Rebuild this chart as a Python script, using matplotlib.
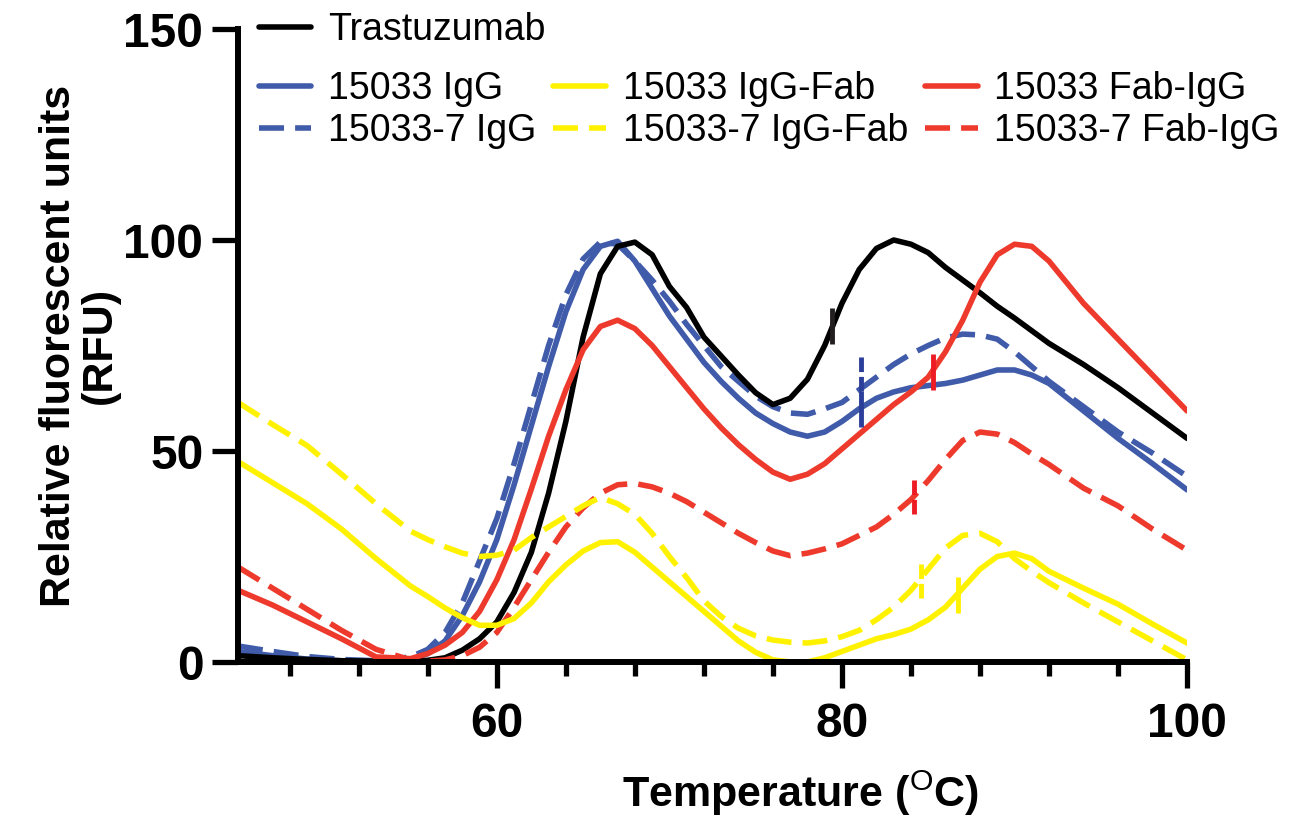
import matplotlib
matplotlib.use("Agg")
import matplotlib.pyplot as plt
from matplotlib.ticker import MultipleLocator, FixedLocator

plt.rcParams['font.family'] = ['Liberation Sans', 'DejaVu Sans']
plt.rcParams['mathtext.fontset'] = 'custom'
plt.rcParams['mathtext.rm'] = 'Liberation Sans'
plt.rcParams['mathtext.bf'] = 'Liberation Sans:bold'

# temperature (°C)
temps = [45, 47, 49, 51, 53, 55, 56, 57, 58, 59, 60, 61, 62, 63, 64, 65, 66, 67,
         68, 69, 70, 71, 72, 73, 74, 75, 76, 77, 78, 79, 80, 81, 82, 83, 84, 85,
         86, 87, 88, 89, 90, 91, 92, 94, 96, 98, 100]

trastuzumab = [1.5, 1.0, 0.6, 0.3, 0.2, 0.2, 0.4, 1.0, 2.8, 5.5, 9.5, 16.5, 26, 40, 57, 77, 92, 98.5,
               99.5, 96.5, 89, 84, 77, 72.5, 68, 63.8, 61, 62.5, 67, 75, 85, 93, 98, 100, 99, 97,
               93.5, 90.5, 87.5, 84.3, 81.5, 78.5, 75.5, 70.5, 65, 59, 53]
igg = [2.5, 1.5, 0.7, 0.3, 0.2, 0.6, 2, 5, 11, 19, 29, 42, 56, 70, 83, 93, 98.5, 99.7,
       95, 88.5, 82, 76.5, 71, 66.5, 62.5, 59, 56.5, 54.5, 53.5, 54.5, 57, 60, 62.5, 64, 65, 65.5,
       66, 66.8, 68, 69.2, 69.2, 68, 66, 59.5, 53, 47, 40.8]
igg_7 = [3.8, 2.5, 1.3, 0.6, 0.3, 1.2, 3, 7, 14, 24, 34, 47, 61, 75, 87, 95.5, 99.5, 99,
         95, 90.5, 85.5, 80, 75, 70, 66.5, 63, 60.5, 59, 58.7, 60, 61.5, 64.5, 67.5, 70.5, 73, 75,
         76.8, 77.7, 77.5, 76.5, 73.5, 70, 66.5, 60.5, 54.5, 49.5, 44]
igg_fab = [47.5, 42.5, 37.5, 31.5, 24.5, 18, 15.5, 12.8, 10.5, 8.7, 8.7, 10.3, 14, 19, 23, 26.3, 28.3, 28.5,
           26, 22.5, 19, 15.5, 12, 8.5, 5, 2.3, 0.5, 0, 0, 1, 2.5, 4, 5.5, 6.5, 7.8, 10,
           13, 17.5, 22, 25, 25.8, 24.5, 21.5, 17.5, 13.7, 9, 4.5]
igg_fab_7 = [61.5, 56.3, 51.3, 44.5, 37.5, 31, 29, 27.3, 25.8, 25, 25.3, 26.5, 29.5, 32, 34.5, 37, 39, 37.5,
             35, 30.5, 25, 20, 14.5, 10.8, 8, 6.2, 5.2, 4.7, 4.5, 5, 6, 7.5, 10, 13, 17, 22,
             27, 30, 30.5, 28.5, 24.5, 21.5, 18.8, 14, 9.5, 5, 0.5]
fab_igg = [17, 13.5, 9.5, 5.5, 1.2, 0.8, 2, 4, 7, 12, 19.5, 29, 41, 53.5, 64.5, 74, 79.5, 81,
           79, 75, 70, 65, 60, 55.5, 51.5, 48, 45, 43.3, 44.5, 47, 50.5, 54, 57.5, 61, 64, 67.5,
           73.5, 81, 90, 96.5, 99, 98.5, 95, 85, 76.5, 68, 59.5]
fab_igg_7 = [22.5, 17.5, 12.5, 7.5, 3, 0.5, 0.2, 0.5, 1.5, 3.5, 7, 13, 19.5, 26, 32, 36.5, 40, 42,
             42.3, 41.5, 40, 38, 35.5, 33, 30.5, 28.3, 26.3, 25.2, 25.8, 26.8, 28, 30, 32, 35, 38.5, 43,
             48, 52.5, 54.5, 54, 52, 49.3, 46.8, 41.2, 37, 31.5, 26.5]

# Tm tick marks (x, centre y)
tm_x = [79.4, 81.1, 81.1, 85.3, 84.2, 86.7, 84.6]
tm_y = [79.6, 60, 68.5, 68.8, 39.3, 15.8, 19.4]

BLUE = '#3F5BA9'
YELLOW = '#FFF200'
RED = '#EE3A2C'
BLACK = '#000000'
DASH = (0, (4.5, 2))

fig = plt.figure(figsize=(12.9, 8.24), dpi=100)
ax = fig.add_axes([0.1845, 0.1966, 0.7357, 0.7682])

series = [
    ('15033-7 IgG', igg_7, BLUE, DASH),
    ('15033 IgG', igg, BLUE, '-'),
    ('Trastuzumab', trastuzumab, BLACK, '-'),
    ('15033 Fab-IgG', fab_igg, RED, '-'),
    ('15033-7 Fab-IgG', fab_igg_7, RED, DASH),
    ('15033 IgG-Fab', igg_fab, YELLOW, '-'),
    ('15033-7 IgG-Fab', igg_fab_7, YELLOW, DASH),
]
handles = {}
for name, vals, col, ls in series:
    ln, = ax.plot(temps, vals, color=col, linestyle=ls, lw=4, label=name,
                  solid_capstyle='round', solid_joinstyle='round',
                  dash_capstyle='butt', dash_joinstyle='round')
    handles[name] = ln

# Tm marks
tm_cols = ['#231F20', '#2B3F9A', '#2B3F9A', '#ED1C24', '#ED1C24', YELLOW, YELLOW]
tm_ls = ['-', '-', (0, (3, 1)), '-', (0, (3, 1)), '-', (0, (3, 1))]
for x, y, c, ls in zip(tm_x, tm_y, tm_cols, tm_ls):
    ax.vlines(x, y - 4.3, y + 4.3, colors=c, linestyles=[ls], lw=3.5, zorder=5)

ax.set_xlim(45, 100)
ax.set_ylim(0, 150)
ax.xaxis.set_major_locator(FixedLocator([60, 80, 100]))
ax.xaxis.set_minor_locator(MultipleLocator(4))
ax.yaxis.set_major_locator(FixedLocator([0, 50, 100, 150]))

for s in ['top', 'right']:
    ax.spines[s].set_visible(False)
for s in ['left', 'bottom']:
    ax.spines[s].set_linewidth(4.3)

ax.tick_params(axis='both', which='major', length=19, width=3.8, labelsize=34.5, pad=6)
ax.tick_params(axis='x', which='minor', length=10, width=3.8)
ax.tick_params(axis='x', which='major', pad=10)
for lab in ax.get_xticklabels() + ax.get_yticklabels():
    lab.set_fontweight('bold')

ax.set_ylabel('Relative fluorescent units\n(RFU)', fontsize=31, fontweight='bold', linespacing=1.05)
ax.yaxis.set_label_coords(-0.124, 0.5)
ax.set_xlabel(r'Temperature ($^{\mathrm{O}}$C)', fontsize=31, fontweight='bold')
ax.xaxis.set_label_coords(0.593, -0.168)

leg1 = ax.legend([handles['Trastuzumab']], ['Trastuzumab'], loc='center left',
                 bbox_to_anchor=(0.022, 0.998), frameon=False, fontsize=27,
                 handlelength=1.4, handletextpad=0.45, borderpad=0, borderaxespad=0)
ax.add_artist(leg1)
order = ['15033 IgG', '15033-7 IgG', '15033 IgG-Fab', '15033-7 IgG-Fab',
         '15033 Fab-IgG', '15033-7 Fab-IgG']
ax.legend([handles[k] for k in order], order, loc='center left', ncol=3,
          bbox_to_anchor=(0.022, 0.872), frameon=False, fontsize=27,
          handlelength=1.4, handletextpad=0.45, columnspacing=0.45,
          labelspacing=0.18, borderpad=0, borderaxespad=0)

fig.savefig('out.png', dpi=100)
